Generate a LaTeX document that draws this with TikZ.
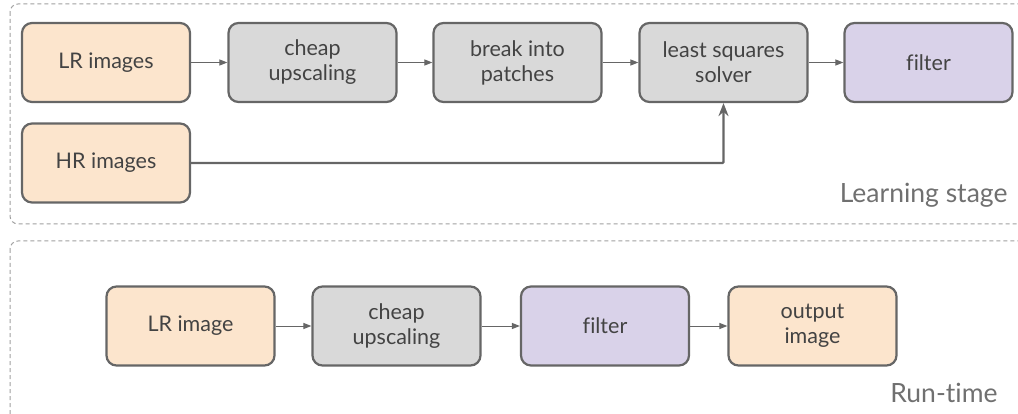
\documentclass[tikz,border=0pt]{standalone}
\usepackage{fontspec}
\setmainfont{Lato}[Ligatures=NoCommon]
\usepackage{tikz}
\usetikzlibrary{arrows.meta}

\definecolor{edgegray}{HTML}{666666}
\definecolor{dashgray}{HTML}{A0A0A0}
\definecolor{textgray}{HTML}{434343}
\definecolor{stagegray}{HTML}{707070}
\definecolor{peach}{HTML}{FCE5CD}
\definecolor{lightgray}{HTML}{D9D9D9}
\definecolor{lilac}{HTML}{D9D2E9}

\tikzset{
  block/.style={rectangle, rounded corners=10pt, draw=edgegray, line width=2.2pt,
    minimum width=168pt, minimum height=79pt, align=center, text=textgray,
    font=\fontsize{21.5}{25}\selectfont},
  peachblock/.style={block, fill=peach},
  grayblock/.style={block, fill=lightgray},
  lilacblock/.style={block, fill=lilac},
  stagebox/.style={draw=dashgray, line width=1pt, dash pattern=on 4pt off 3pt, rounded corners=8pt},
  stagename/.style={anchor=east, text=stagegray, font=\fontsize{26.5}{30}\selectfont},
  thinarrow/.style={draw=edgegray, line width=1pt, -{Triangle[length=8pt,width=6pt]}},
  thickarrow/.style={draw=edgegray, line width=2.2pt, -{Stealth[length=13pt,width=10pt]}}
}

\begin{document}
\begin{tikzpicture}[x=1pt, y=-1pt]

\useasboundingbox (0,0) rectangle (1018,414);

% the two stages
\draw[stagebox] (10,4) rectangle (1040,224);
\draw[stagebox] (10,241) rectangle (1040,440);
\node[stagename] (learnlabel) at (1011,195) {Learning stage};
\node[stagename] (runlabel) at (1001,393) {Run-time};

% learning stage blocks
\draw (106,62.5) node[peachblock] (LRs) {LR images};
\draw (312.5,62.5) node[grayblock] (up1) {cheap\\upscaling};
\draw (517.5,62.5) node[grayblock] (patch) {break into\\patches};
\draw (723.5,62.5) node[grayblock] (lsq) {least squares\\solver};
\draw (928.5,62.5) node[lilacblock] (filt1) {filter};
\draw (106,163) node[peachblock] (HRs) {HR images};

\draw[thinarrow] (LRs) -- (up1);
\draw[thinarrow] (up1) -- (patch);
\draw[thinarrow] (patch) -- (lsq);
\draw[thinarrow] (lsq) -- (filt1);
\draw[thickarrow, rounded corners=1pt] (HRs.east) -| (lsq.south);

% run-time blocks
\draw (190.5,326) node[peachblock] (LR) {LR image};
\draw (396.5,326) node[grayblock] (up2) {cheap\\upscaling};
\draw (605,326) node[lilacblock] (filt2) {filter};
\draw (812.5,326) node[peachblock] (out) {output\\image};

\draw[thinarrow] (LR) -- (up2);
\draw[thinarrow] (up2) -- (filt2);
\draw[thinarrow] (filt2) -- (out);

\end{tikzpicture}
\end{document}
